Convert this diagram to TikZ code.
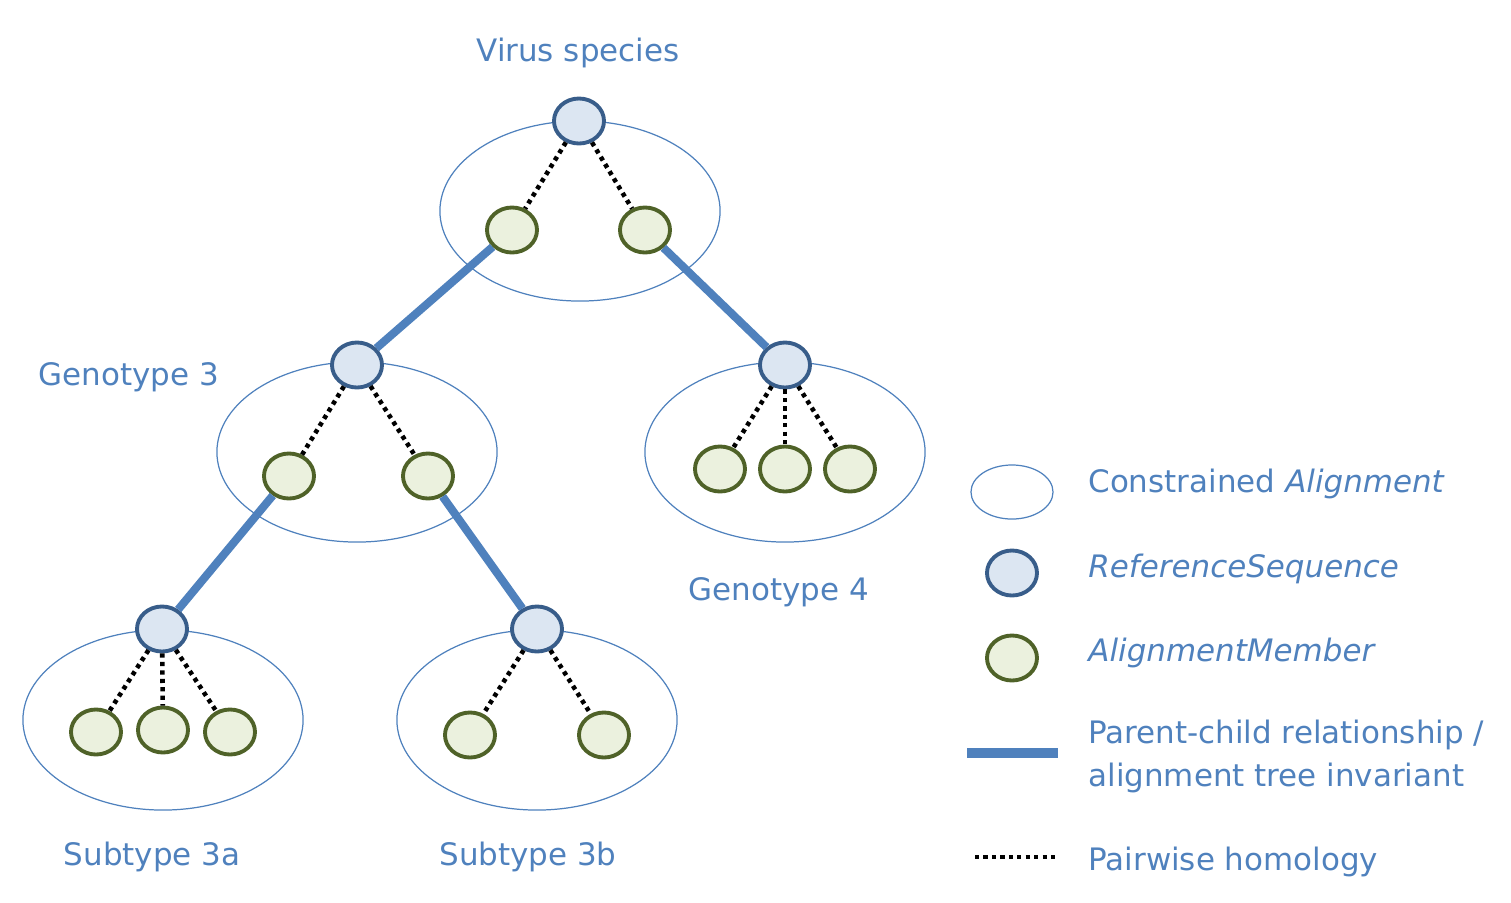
\documentclass[tikz,border=0pt]{standalone}
\usepackage{fontspec}
\setmainfont{DejaVu Sans}
\usetikzlibrary{shapes.geometric}
\definecolor{txtblue}{HTML}{4F81BD}
\definecolor{reffill}{HTML}{DCE6F2}
\definecolor{refline}{HTML}{385D8A}
\definecolor{memfill}{HTML}{EBF1DE}
\definecolor{memline}{HTML}{4F6228}
\begin{document}
\begin{tikzpicture}[x=0.01cm, y=-0.01cm,
  every node/.style={font=\fontsize{8.8}{12.2}\selectfont, text=txtblue},
  aln/.style={ellipse, draw=txtblue, line width=0.35pt, minimum width=2.8cm, minimum height=1.8cm, inner sep=0pt},
  refseq/.style={ellipse, draw=refline, fill=reffill, line width=1.1pt, minimum width=0.5cm, minimum height=0.45cm, inner sep=0pt},
  member/.style={ellipse, draw=memline, fill=memfill, line width=1.1pt, minimum width=0.5cm, minimum height=0.45cm, inner sep=0pt},
  parent/.style={draw=txtblue, line width=2.3pt},
  homol/.style={draw=black, line width=1.3pt, dash pattern=on 1.2pt off 1.2pt}]
\useasboundingbox (0,0) rectangle (1511,902);
% alignments
\node[aln] (aln0) at (580,211){};
\node[aln] (aln1) at (357,452){};
\node[aln] (aln2) at (785,452){};
\node[aln] (aln3) at (163,720){};
\node[aln] (aln4) at (537,720){};
% virus species
\node[refseq] (ref0) at (579,121){};
\node[member] (mem01) at (512,230){};
\node[member] (mem02) at (645,230){};
\draw[homol] (ref0) -- (mem01);
\draw[homol] (ref0) -- (mem02);
% genotype 3
\node[refseq] (ref1) at (357,365){};
\node[member] (mem11) at (289,476){};
\node[member] (mem12) at (428,476){};
\draw[homol] (ref1) -- (mem11);
\draw[homol] (ref1) -- (mem12);
% genotype 4
\node[refseq] (ref2) at (785,365){};
\node[member] (mem21) at (720,469){};
\node[member] (mem22) at (785,469){};
\node[member] (mem23) at (850,469){};
\draw[homol] (ref2) -- (mem21);
\draw[homol] (ref2) -- (mem22);
\draw[homol] (ref2) -- (mem23);
% subtype 3a
\node[refseq] (ref3) at (162,629){};
\node[member] (mem31) at (96,732){};
\node[member] (mem32) at (163,730){};
\node[member] (mem33) at (230,732){};
\draw[homol] (ref3) -- (mem31);
\draw[homol] (ref3) -- (mem32);
\draw[homol] (ref3) -- (mem33);
% subtype 3b
\node[refseq] (ref4) at (537,629){};
\node[member] (mem41) at (470,735){};
\node[member] (mem42) at (604,735){};
\draw[homol] (ref4) -- (mem41);
\draw[homol] (ref4) -- (mem42);
% parent-child
\draw[parent] (mem01) -- (ref1);
\draw[parent] (mem02) -- (ref2);
\draw[parent] (mem11) -- (ref3);
\draw[parent] (mem12) -- (ref4);
% labels
\node (lab0) at (578,53){Virus species};
\node (lab1) at (129,377){Genotype 3};
\node (lab2) at (779,592){Genotype 4};
\node (lab3) at (152,857){Subtype 3a};
\node (lab4) at (528,857){Subtype 3b};
% legend
\node[aln, minimum width=0.82cm, minimum height=0.54cm] (legaln) at (1012,492){};
\node[refseq] (legref) at (1012,573){};
\node[member] (legmem) at (1012,658){};
\coordinate (pcA) at (967,753);
\coordinate (pcB) at (1058,753);
\draw[parent, line width=2.7pt] (pcA) -- (pcB);
\coordinate (hoA) at (975,857);
\coordinate (hoB) at (1058,857);
\draw[homol] (hoA) -- (hoB);
\node[anchor=west] (legt0) at (1076,484){Constrained \textit{Alignment}};
\node[anchor=west] (legt1) at (1076,569){\textit{ReferenceSequence}};
\node[anchor=west] (legt2) at (1076,653){\textit{AlignmentMember}};
\node[anchor=west, align=left] (legt3) at (1076,756){Parent-child relationship /\\alignment tree invariant};
\node[anchor=west] (legt4) at (1076,862){Pairwise homology};
\end{tikzpicture}
\end{document}
